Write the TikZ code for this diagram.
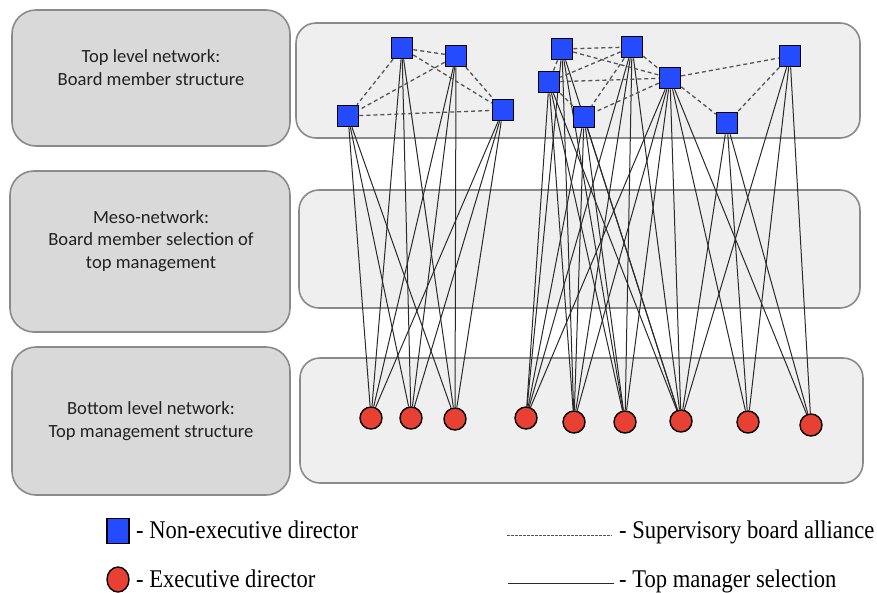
\documentclass[tikz,border=0pt]{standalone}
\usepackage{fontspec}
\setmainfont{Liberation Serif}
\newfontfamily\boxfont{Carlito}
\usetikzlibrary{shapes.geometric}
\definecolor{nodeblue}{HTML}{254BFF}
\definecolor{nodered}{HTML}{E84134}
\definecolor{leftfill}{HTML}{D9D9D9}
\definecolor{rightfill}{HTML}{EFEFEF}
\definecolor{panelborder}{HTML}{8A8A8A}
\definecolor{linegray}{HTML}{2A2A2A}
\definecolor{dashgray}{HTML}{555555}
\definecolor{textgray}{HTML}{222222}
\pgfdeclarelayer{panels}
\pgfdeclarelayer{links}
\pgfsetlayers{panels,links,main}
\tikzset{
  lbox/.style={draw=panelborder, fill=leftfill, line width=1.6pt, rounded corners=24pt, rectangle, inner sep=0pt},
  rpanel/.style={draw=panelborder, fill=rightfill, line width=1.6pt, rounded corners=20pt, rectangle, inner sep=0pt},
  nonexec/.style={rectangle, draw=black, line width=1.6pt, fill=nodeblue, minimum size=21pt, inner sep=0pt},
  execdir/.style={circle, draw=black, line width=1.4pt, fill=nodered, minimum size=22pt, inner sep=0pt},
  selectline/.style={draw=linegray, line width=1pt},
  alliance/.style={draw=dashgray, line width=1.3pt, dash pattern=on 4pt off 3pt},
  boxtext/.style={align=center, font=\boxfont\fontsize{18.6}{22.8}\selectfont, text=textgray, inner sep=0pt},
  legendtext/.style={anchor=base west, inner sep=0pt, font=\fontsize{25.5}{28}\selectfont, text=black},
  legdash/.style={draw=dashgray, line width=1pt, dash pattern=on 2.5pt off 1.5pt},
  legsolid/.style={draw=linegray, line width=1pt}
}
\begin{document}
\begin{tikzpicture}[x=1pt,y=-1pt]
\useasboundingbox (0,0) rectangle (877,592);

% panels
\begin{pgfonlayer}{panels}
\node[lbox, minimum width=278pt, minimum height=136pt] (topbox) at (151,78) {};
\node[lbox, minimum width=280pt, minimum height=161pt] (midbox) at (150,251.5) {};
\node[lbox, minimum width=278pt, minimum height=148pt] (botbox) at (151,421) {};
\node[rpanel, minimum width=564pt, minimum height=115pt] (toppanel) at (578,80.5) {};
\node[rpanel, minimum width=561pt, minimum height=118pt] (midpanel) at (579.5,249) {};
\node[rpanel, minimum width=563pt, minimum height=125pt] (botpanel) at (581.5,420.5) {};
\end{pgfonlayer}

\node[boxtext] (t1) at (151,68) {Top level network:\\Board member structure};
\node[boxtext] (t2) at (151,241) {Meso-network:\\Board member selection of\\top management};
\node[boxtext] (t3) at (151,421.5) {Bottom level network:\\Top management structure};

% non-executive directors
\node[nonexec] (s1) at (402,48) {};
\node[nonexec] (s2) at (456,56) {};
\node[nonexec] (s3) at (348,116) {};
\node[nonexec] (s4) at (503,110) {};
\node[nonexec] (s5) at (562,49) {};
\node[nonexec] (s6) at (632,47) {};
\node[nonexec] (s7) at (549,82) {};
\node[nonexec] (s8) at (670,78) {};
\node[nonexec] (s9) at (584,117) {};
\node[nonexec] (s10) at (790,56) {};
\node[nonexec] (s11) at (727,123) {};

% executive directors
\node[execdir] (c1) at (371,418) {};
\node[execdir] (c2) at (411,418) {};
\node[execdir] (c3) at (455,419) {};
\node[execdir] (c4) at (526,418) {};
\node[execdir] (c5) at (574,422) {};
\node[execdir] (c6) at (625,422) {};
\node[execdir] (c7) at (681,421) {};
\node[execdir] (c8) at (748,422) {};
\node[execdir] (c9) at (811,425) {};

\begin{pgfonlayer}{links}
% top manager selection
\foreach \s in {s1,s2,s3,s4}{
  \foreach \c in {c1,c2,c3}{ \draw[selectline] (\s) -- (\c); }
}
\foreach \s in {s5,s6,s7,s9}{
  \foreach \c in {c4,c5,c6,c7}{ \draw[selectline] (\s) -- (\c); }
}
\foreach \c in {c4,c5,c6,c7,c8,c9}{ \draw[selectline] (s8) -- (\c); }
\foreach \s in {s10,s11}{
  \foreach \c in {c7,c8,c9}{ \draw[selectline] (\s) -- (\c); }
}
% supervisory board alliances
\foreach \a/\b in {s1/s2,s1/s3,s1/s4,s2/s3,s2/s4,s3/s4,
                   s5/s6,s5/s7,s5/s8,s6/s7,s6/s8,s6/s9,s7/s8,s7/s9,s8/s9,s8/s10,s8/s11,s10/s11}{
  \draw[alliance] (\a) -- (\b);
}
\end{pgfonlayer}

% legend
\node[nonexec, minimum width=22pt, minimum height=25pt, line width=1.4pt] (lsq) at (118,531) {};
\node[ellipse, draw=black, line width=1.4pt, fill=nodered, minimum width=22pt, minimum height=25pt, inner sep=0pt] (lci) at (118,579.5) {};
\node[legendtext] (l1) at (136,538) {\scalebox{0.885}[1]{- Non-executive director}};
\node[legendtext] (l2) at (136,587) {\scalebox{0.885}[1]{- Executive director}};
\coordinate (da) at (507,535);
\coordinate (db) at (612,535);
\draw[legdash] (da) -- (db);
\node[legendtext] (l3) at (619,538) {\scalebox{0.885}[1]{- Supervisory board alliance}};
\coordinate (sa) at (508,583);
\coordinate (sb) at (614,583);
\draw[legsolid] (sa) -- (sb);
\node[legendtext] (l4) at (619,587) {\scalebox{0.885}[1]{- Top manager selection}};
\end{tikzpicture}
\end{document}
